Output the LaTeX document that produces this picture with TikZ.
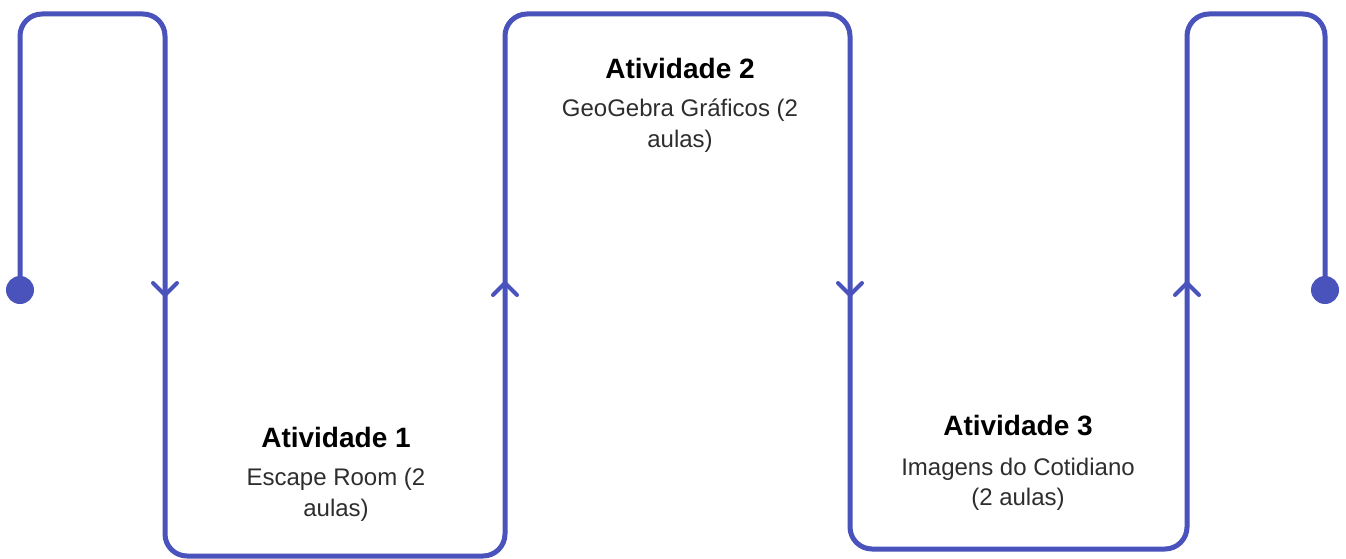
\documentclass[tikz,border=0pt]{standalone}
\usepackage{fontspec}
\setmainfont{Liberation Sans}
\usetikzlibrary{calc}
\definecolor{flow}{RGB}{74,82,188}
\definecolor{bodytext}{RGB}{45,45,45}
\begin{document}
\begin{tikzpicture}[x=1pt,y=-1pt,
  flowline/.style={draw=flow,line width=5pt,rounded corners=22pt},
  chev/.style={draw=flow,line width=4pt,line cap=round,line join=miter},
  enddot/.style={circle,fill=flow,inner sep=0pt,minimum size=28pt},
  title/.style={font=\bfseries\fontsize{28}{33}\selectfont,text=black,inner sep=0pt},
  desc/.style={font=\fontsize{24}{30.5}\selectfont,text=bodytext,align=center,inner sep=0pt}]
\useasboundingbox (0,0) rectangle (1346,559);
% path corners
\coordinate (s)  at (20,290);
\coordinate (c1) at (20,14);
\coordinate (c2) at (165,14);
\coordinate (c3) at (165,556);
\coordinate (c4) at (505,556);
\coordinate (c5) at (505,14);
\coordinate (c6) at (850,14);
\coordinate (c7) at (850,549);
\coordinate (c8) at (1187,549);
\coordinate (c9) at (1187,14);
\coordinate (c10) at (1325,14);
\coordinate (e) at (1325,290);
\draw[flowline] (s) -- (c1) -- (c2) -- (c3) -- (c4) -- (c5) -- (c6) -- (c7) -- (c8) -- (c9) -- (c10) -- (e);
\node[enddot] (d0) at (s) {};
\node[enddot] (dE) at (e) {};
% chevrons
\coordinate (m1) at (165,295);
\coordinate (m2) at (505,283);
\coordinate (m3) at (850,295);
\coordinate (m4) at (1187,283);
\draw[chev] ($(m1)+(-12,-12)$) -- (m1) -- ($(m1)+(12,-12)$);
\draw[chev] ($(m2)+(-12,12)$) -- (m2) -- ($(m2)+(12,12)$);
\draw[chev] ($(m3)+(-12,-12)$) -- (m3) -- ($(m3)+(12,-12)$);
\draw[chev] ($(m4)+(-12,12)$) -- (m4) -- ($(m4)+(12,12)$);
% texts
\node[title] (t1) at (336,437) {Atividade 1};
\node[desc] (x1) at (336,495) {Escape Room (2\\aulas)};
\node[title] (t2) at (680,68) {Atividade 2};
\node[desc] (x2) at (680,125.5) {GeoGebra Gráficos (2\\aulas)};
\node[title] (t3) at (1018,426) {Atividade 3};
\node[desc] (x3) at (1018,484.5) {Imagens do Cotidiano\\(2 aulas)};
\end{tikzpicture}
\end{document}
